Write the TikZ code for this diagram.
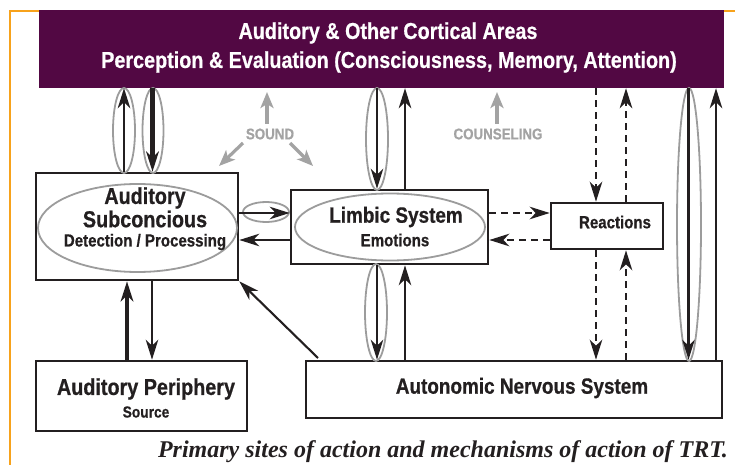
\documentclass[tikz,border=0pt]{standalone}
\usepackage{fontspec}
\setmainfont{Liberation Sans}
\newfontfamily\cond[FakeStretch=0.86, BoldFont={Liberation Sans Bold}, BoldFeatures={FakeBold=0.6}]{Liberation Sans}
\newfontfamily\capfont{Liberation Serif}
\usetikzlibrary{arrows.meta}
\definecolor{cortexpurple}{HTML}{520843}
\definecolor{ringgray}{HTML}{9C9C9C}
\definecolor{soundgray}{HTML}{A3A3A3}
\definecolor{frameorange}{HTML}{F7A21B}
\definecolor{ink}{HTML}{231F20}
\tikzset{
  box/.style={draw=ink, line width=2.6pt, fill=white, inner sep=0pt},
  lbl/.style={text=ink, font=\cond\bfseries, inner sep=0pt, align=center},
  tip/.style={-{Stealth[length=20pt,width=12.5pt,inset=6pt]}},
  conn/.style={tip, draw=ink, line width=2.1pt},
  thickconn/.style={tip, draw=ink, line width=4.4pt},
  dashconn/.style={tip, draw=ink, line width=2.4pt, dash pattern=on 7pt off 5pt},
  ring/.style={draw=ringgray, line width=1.8pt},
  soundarrow/.style={draw=soundgray, line width=3.2pt, -{Stealth[length=16pt,width=13pt,inset=4pt]}},
  graytext/.style={text=soundgray, font=\cond\bfseries\fontsize{15.5}{15.5}\selectfont, inner sep=0pt}
}
\begin{document}
\begin{tikzpicture}[x=1pt,y=-1pt]
\useasboundingbox (0,0) rectangle (735,465);
% frame
\draw[frameorange, line width=2pt] (39,11) -- (9.5,11) -- (9.5,465);
\draw[frameorange, line width=2pt] (724,11) -- (735,11);
% boxes
\node[fill=cortexpurple, minimum width=685pt, minimum height=78pt, inner sep=0pt] (cortex) at (381.5,49) {};
\node[text=white, font=\cond\bfseries\fontsize{23}{23}\selectfont, inner sep=0pt] (cortexA) at (388,33) {Auditory \& Other Cortical Areas};
\node[text=white, font=\cond\bfseries\fontsize{23}{23}\selectfont, inner sep=0pt] (cortexB) at (389,62) {Perception \& Evaluation (Consciousness, Memory, Attention)};

\node[box, minimum width=202pt, minimum height=107pt] (sub) at (137,226.5) {};
\node[box, minimum width=211pt, minimum height=70pt] (peri) at (141.5,396) {};
\node[box, minimum width=197pt, minimum height=74pt] (limbic) at (389.5,227) {};
\node[box, minimum width=112pt, minimum height=46pt] (react) at (607,226) {};
\node[box, minimum width=416pt, minimum height=57pt] (ans) at (514,389.5) {};

% ellipses inside boxes
\draw[ring] (137.5,228) ellipse [x radius=99.5pt, y radius=44pt];
\draw[ring] (390,227) ellipse [x radius=95pt, y radius=33.5pt];

% labels
\node[lbl, font=\cond\bfseries\fontsize{23}{23}\selectfont] (subA) at (145,198) {Auditory};
\node[lbl, font=\cond\bfseries\fontsize{23}{23}\selectfont] (subB) at (145,219) {Subconcious};
\node[lbl, font=\cond\bfseries\fontsize{17.5}{17.5}\selectfont] (subC) at (145,242) {Detection / Processing};
\node[lbl, font=\cond\bfseries\fontsize{23}{23}\selectfont] (periA) at (146,389) {Auditory Periphery};
\node[lbl, font=\cond\bfseries\fontsize{16}{16}\selectfont] (periB) at (146,412) {Source};
\node[lbl, font=\cond\bfseries\fontsize{22}{22}\selectfont] (limA) at (396,217) {Limbic System};
\node[lbl, font=\cond\bfseries\fontsize{17.5}{17.5}\selectfont] (limB) at (395,240) {Emotions};
\node[lbl, font=\cond\bfseries\fontsize{17.5}{17.5}\selectfont] (reactA) at (615,222) {Reactions};
\node[lbl, font=\cond\bfseries\fontsize{22}{22}\selectfont] (ansA) at (522,388) {Autonomic Nervous System};

% sound and counseling
\node[graytext] (sound) at (270,134) {SOUND};
\coordinate (sUp) at (267,92);
\coordinate (sUpS) at (267,124);
\coordinate (sL0) at (243,143);
\coordinate (sL1) at (219,166);
\coordinate (sR0) at (290,143);
\coordinate (sR1) at (313,166);
\draw[soundarrow] (sUpS) -- (sUp);
\draw[soundarrow] (sL0) -- (sL1);
\draw[soundarrow] (sR0) -- (sR1);
\node[graytext] (couns) at (498,134) {COUNSELING};
\coordinate (cUp) at (497,92);
\coordinate (cUpS) at (497,124);
\draw[soundarrow] (cUpS) -- (cUp);

% x positions of vertical connectors
\coordinate (x1) at (124,0);
\coordinate (x2) at (152.5,0);
\coordinate (x3) at (127,0);
\coordinate (x4) at (152,0);
\coordinate (x5) at (377,0);
\coordinate (x6) at (405,0);
\coordinate (x7) at (596,0);
\coordinate (x8) at (626,0);
\coordinate (x9) at (688.5,0);
\coordinate (x10) at (716,0);
\coordinate (y1) at (0,213);
\coordinate (y2) at (0,240);

% cortex <-> subconscious
\draw[ring] (124,130.5) ellipse [x radius=11pt, y radius=42.5pt];
\draw[ring] (153,130.5) ellipse [x radius=10.5pt, y radius=42.5pt];
\draw[conn] (sub.north -| x1) -- (cortex.south -| x1);
\draw[thickconn] (cortex.south -| x2) -- (sub.north -| x2);

% subconscious <-> periphery
\draw[thickconn] (peri.north -| x3) -- (sub.south -| x3);
\draw[conn] (sub.south -| x4) -- (peri.north -| x4);

% subconscious <-> limbic
\draw[ring] (266,212) ellipse [x radius=23pt, y radius=10pt];
\draw[conn] (sub.east |- y1) -- (limbic.west |- y1);
\draw[conn] (limbic.west |- y2) -- (sub.east |- y2);

% cortex <-> limbic
\draw[ring] (377,139) ellipse [x radius=11pt, y radius=51pt];
\draw[conn] (cortex.south -| x5) -- (limbic.north -| x5);
\draw[conn] (limbic.north -| x6) -- (cortex.south -| x6);

% limbic <-> ANS
\draw[ring] (376,312.5) ellipse [x radius=11pt, y radius=48.5pt];
\draw[conn] (limbic.south -| x5) -- (ans.north -| x5);
\draw[conn] (ans.north -| x6) -- (limbic.south -| x6);

% ANS -> subconscious (diagonal)
\coordinate (diag) at (318,358);
\draw[conn] (diag) -- (sub.south east);

% limbic <-> reactions
\draw[dashconn] (limbic.east |- y1) -- (react.west |- y1);
\draw[dashconn] (react.west |- y2) -- (limbic.east |- y2);

% cortex <-> reactions
\draw[dashconn] (cortex.south -| x7) -- (react.north -| x7);
\draw[dashconn] (react.north -| x8) -- (cortex.south -| x8);
% reactions <-> ANS
\draw[dashconn] (react.south -| x7) -- (ans.north -| x7);
\draw[dashconn] (ans.north -| x8) -- (react.south -| x8);

% cortex <-> ANS
\draw[ring] (689,224.5) ellipse [x radius=12pt, y radius=136.5pt];
\draw[conn] (cortex.south -| x9) -- (ans.north -| x9);
\draw[conn] (ans.north -| x10) -- (cortex.south -| x10);

% caption
\node[anchor=base east, text=ink, font=\capfont\bfseries\itshape\fontsize{24}{24}\selectfont, inner sep=0pt] (caption) at (728,457) {Primary sites of action and mechanisms of action of TRT.};
\end{tikzpicture}
\end{document}
